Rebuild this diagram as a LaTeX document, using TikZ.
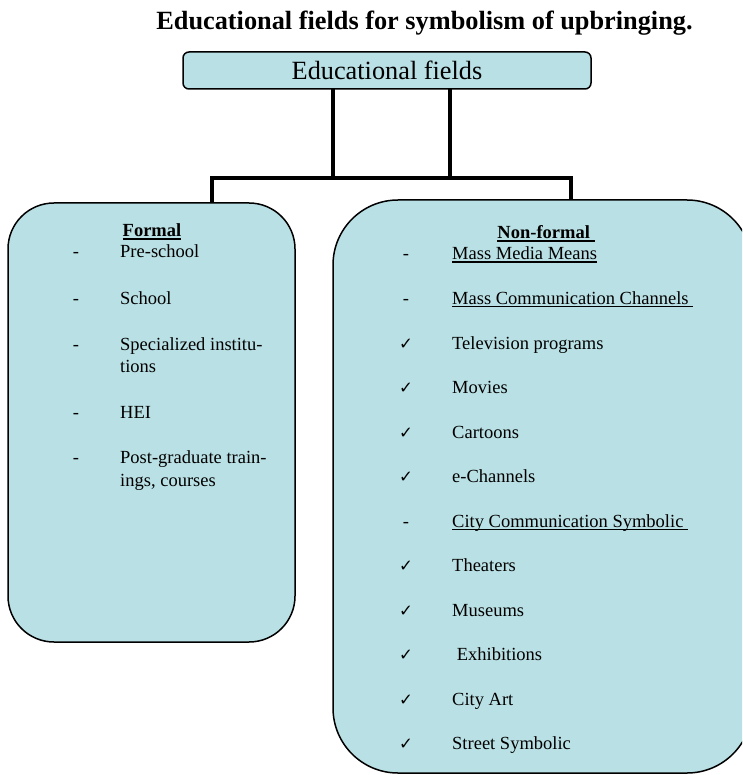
\documentclass[tikz,border=0pt]{standalone}
\usepackage{fontspec}
\setmainfont{Liberation Serif}
\newfontfamily\symfont{DejaVu Sans}
\usetikzlibrary{positioning}
\definecolor{edcyan}{RGB}{185,224,228}
\newcommand{\ulined}[1]{\setbox0\hbox{#1}\rlap{\rule[-2.6pt]{\wd0}{1.1pt}}\box0}
\newcommand{\tick}{{\symfont\fontsize{16.5}{16.5}\selectfont ✓}}
\tikzset{
  fieldbox/.style={draw, fill=edcyan, line width=1.5pt, inner sep=0pt, outer sep=0pt},
  bus/.style={line width=4.6pt},
  head/.style={anchor=base, inner sep=0pt, font=\fontsize{18.5}{22}\selectfont\bfseries},
  itemmark/.style={anchor=base, inner sep=0pt, font=\fontsize{18.5}{22}\selectfont},
  item/.style={anchor=base west, inner sep=0pt, font=\fontsize{18.5}{22}\selectfont}
}

\begin{document}
\begin{tikzpicture}[x=1pt,y=-1pt]
  \useasboundingbox (0,0) rectangle (742,775);
  \clip (0,0) rectangle (742,775);
  % Title
  \node[anchor=base, inner sep=0pt, font=\fontsize{26.3}{30}\selectfont\bfseries] (title) at (424.5,30) {Educational fields for symbolism of upbringing.};
  % Top box
  \node[fieldbox, rounded corners=6pt, minimum width=408pt, minimum height=37pt, font=\fontsize{26.3}{30}\selectfont] (fields) at (387,70.5) {Educational fields};
  % The two branches
  \node[fieldbox, rounded corners=46pt, minimum width=287pt, minimum height=439pt] (formal) at (151.5,422.5) {};
  \node[fieldbox, rounded corners=65pt, minimum width=419pt, minimum height=573pt] (nonformal) at (542.5,486.5) {};
  % Connectors
  \coordinate (dropA) at (333,178);
  \coordinate (dropB) at (450,178);
  \coordinate (busL) at (212,178);
  \coordinate (busR) at (571,178);
  \draw[bus] (fields.south -| dropA) -- (dropA);
  \draw[bus] (fields.south -| dropB) -- (dropB);
  \draw[bus] (formal.north -| busL) -- (busL) -- (busR) -- (nonformal.north -| busR);
  % Formal list
  \node[head] (formalhead) at (152,237) {\ulined{Formal}};
  \foreach \y/\t [count=\i] in {258/Pre-school, 304/School, 350/Specialized institu-, 418/HEI, 463/Post-graduate train-} {
    \node[itemmark] (fmark\i) at (76,\y) {-};
    \node[item] (fitem\i) at (120,\y) {\t};
  }
  \node[item] (fitem3b) at (120,372) {tions};
  \node[item] (fitem5b) at (120,486) {ings, courses};
  % Non-formal list
  \node[head] (nonformalhead) at (546,239) {\ulined{Non-formal\ }};
  \foreach \m/\t [count=\i from 0] in {-/\ulined{Mass Media Means}, -/\ulined{Mass Communication Channels\ }, \tick/Television programs, \tick/Movies, \tick/Cartoons, \tick/e-Channels, -/\ulined{City Communication Symbolic\ }, \tick/Theaters, \tick/Museums, \tick/{\ Exhibitions}, \tick/City Art, \tick/Street Symbolic} {
    \node[itemmark] (nmark\i) at (406,{260+44.5*\i}) {\m};
    \node[item] (nitem\i) at (452,{260+44.5*\i}) {\t};
  }
\end{tikzpicture}
\end{document}
